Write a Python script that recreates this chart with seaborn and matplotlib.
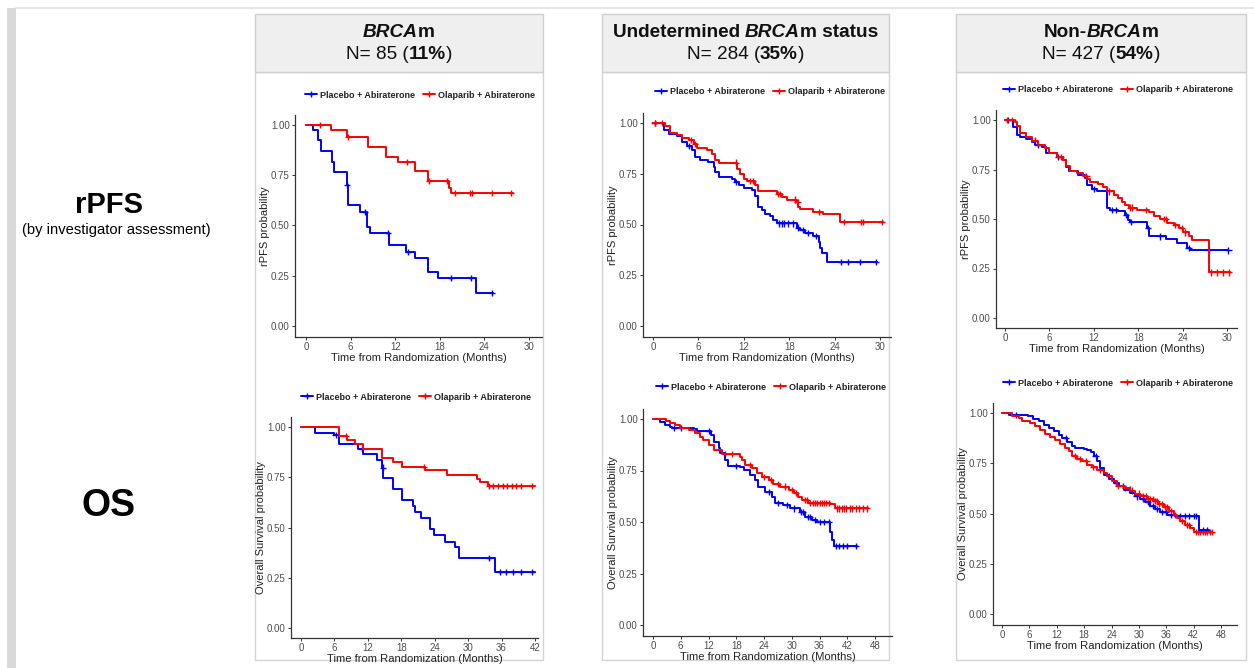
import numpy as np
import pandas as pd
import matplotlib
matplotlib.use("Agg")
import matplotlib.pyplot as plt
from matplotlib.patches import Rectangle
from matplotlib.lines import Line2D
import seaborn as sns

W, H = 1254, 668
sns.set_theme(style="ticks")
plt.rcParams['font.family'] = ['Liberation Sans', 'DejaVu Sans']

ARM_PBO = "Placebo + Abiraterone"
ARM_OLA = "Olaparib + Abiraterone"
COLORS = {ARM_PBO: "#0000ff", ARM_OLA: "#ff0000"}

# ---------------- data ----------------
# BRCAm rPFS
brca_rpfs_pbo_t = [0, 1.0, 1.65, 2.0, 3.45, 3.75, 5.5, 5.7, 7.3, 8.15, 8.6, 11.1, 13.5, 14.6, 16.4, 17.8, 22.9, 25.1]
brca_rpfs_pbo_s = [1.0, 0.975, 0.925, 0.872, 0.818, 0.768, 0.70, 0.60, 0.569, 0.494, 0.461, 0.403, 0.37, 0.337, 0.267, 0.237, 0.163, 0.163]
brca_rpfs_pbo_c = [5.55, 7.9, 11.0, 13.7, 19.5, 22.2, 25.0]
brca_rpfs_ola_t = [0, 3.4, 5.5, 8.4, 10.8, 12.4, 14.6, 16.4, 19.2, 19.5, 27.8]
brca_rpfs_ola_s = [1.0, 0.975, 0.94, 0.89, 0.84, 0.815, 0.77, 0.72, 0.685, 0.66, 0.66]
brca_rpfs_ola_c = [1.9, 5.6, 13.6, 16.6, 19.0, 20.1, 22.1, 22.3, 25.0, 27.6]

# Undetermined rPFS
und_rpfs_pbo_t = [0, 1.5, 2.1, 3.2, 3.8, 4.5, 5.1, 5.6, 6.2, 7.3, 8.0, 8.2, 8.7, 10.4, 10.9, 11.3, 12.0, 13.1, 13.5, 13.9,
                  14.4, 14.8, 15.5, 15.9, 16.4, 19.0, 19.4, 20.1, 21.2, 21.9, 22.1, 22.3, 23.0, 29.6]
und_rpfs_pbo_s = [1.0, 0.964, 0.944, 0.934, 0.906, 0.885, 0.869, 0.833, 0.82, 0.808, 0.784, 0.759, 0.734, 0.726, 0.71,
                  0.693, 0.682, 0.669, 0.639, 0.587, 0.57, 0.554, 0.541, 0.521, 0.505, 0.485, 0.472, 0.459, 0.443, 0.415,
                  0.382, 0.361, 0.316, 0.316]
und_rpfs_pbo_c = [0.3, 4.8, 11.0, 16.6, 17.0, 17.3, 17.8, 18.5, 19.2, 19.8, 20.5, 21.5, 24.8, 25.8, 27.3, 29.5]
und_rpfs_ola_t = [0, 1.6, 2.3, 3.2, 3.8, 4.7, 5.4, 5.8, 7.1, 7.8, 8.2, 8.7, 11.1, 11.5, 12.0, 12.4, 13.5, 13.9, 16.4,
                  17.0, 17.7, 19.0, 19.2, 19.4, 21.2, 22.5, 24.7, 30.4]
und_rpfs_ola_s = [1.0, 0.985, 0.95, 0.94, 0.928, 0.915, 0.898, 0.879, 0.866, 0.849, 0.816, 0.805, 0.775, 0.75, 0.726,
                  0.715, 0.693, 0.666, 0.652, 0.636, 0.623, 0.611, 0.587, 0.575, 0.562, 0.554, 0.513, 0.513]
und_rpfs_ola_c = [0.2, 1.2, 5.0, 5.5, 11.0, 12.8, 13.2, 16.5, 16.8, 18.8, 19.1, 22.0, 25.2, 27.5, 27.8, 30.2]

# Non-BRCAm rPFS
non_rpfs_pbo_t = [0, 1.1, 1.6, 2.0, 2.9, 3.6, 4.1, 5.0, 5.6, 7.0, 7.9, 8.3, 8.6, 9.9, 10.8, 11.1, 11.7, 12.4, 13.8,
                  14.2, 15.3, 16.2, 16.6, 16.9, 19.2, 19.5, 21.7, 23.2, 24.6, 25.0, 30.2]
non_rpfs_pbo_s = [1.0, 0.966, 0.924, 0.913, 0.905, 0.891, 0.874, 0.866, 0.832, 0.815, 0.798, 0.765, 0.74, 0.723, 0.706,
                  0.672, 0.65, 0.639, 0.555, 0.546, 0.538, 0.521, 0.496, 0.484, 0.454, 0.412, 0.398, 0.378, 0.353,
                  0.341, 0.341]
non_rpfs_pbo_c = [0.4, 4.5, 7.2, 12.0, 14.5, 15.0, 16.4, 17.0, 19.3, 21.0, 24.8, 27.5, 30.2]
non_rpfs_ola_t = [0, 1.35, 1.6, 2.0, 2.9, 3.6, 4.4, 5.4, 5.9, 7.0, 7.9, 8.3, 8.8, 9.7, 10.6, 11.1, 11.5, 12.6, 13.3,
                  13.8, 14.7, 15.3, 15.8, 16.2, 16.7, 17.8, 19.4, 20.1, 21.0, 21.9, 22.8, 23.5, 24.1, 24.8, 25.3,
                  27.5, 30.4]
non_rpfs_ola_s = [1.0, 0.99, 0.97, 0.933, 0.916, 0.896, 0.874, 0.857, 0.832, 0.815, 0.798, 0.768, 0.743, 0.731, 0.718,
                  0.70, 0.689, 0.677, 0.66, 0.639, 0.622, 0.605, 0.588, 0.571, 0.558, 0.546, 0.533, 0.516, 0.499,
                  0.482, 0.47, 0.454, 0.432, 0.412, 0.395, 0.23, 0.23]
non_rpfs_ola_c = [0.3, 1.0, 4.0, 7.5, 11.0, 14.0, 16.9, 17.2, 19.0, 21.5, 21.7, 23.0, 23.9, 24.3, 27.8, 28.6, 29.5, 30.3]

# BRCAm OS
brca_os_pbo_t = [0, 2.6, 5.9, 6.75, 10.3, 11.2, 13.6, 14.5, 14.8, 16.6, 18.1, 20.1, 20.5, 21.5, 23.2, 23.8, 25.9, 27.7,
                 28.4, 34.8, 42.0]
brca_os_pbo_s = [1.0, 0.97, 0.959, 0.917, 0.892, 0.864, 0.834, 0.798, 0.748, 0.693, 0.635, 0.605, 0.577, 0.549, 0.494,
                 0.461, 0.428, 0.403, 0.35, 0.279, 0.279]
brca_os_pbo_c = [6.2, 11.0, 14.7, 33.8, 35.8, 36.8, 38.0, 39.5, 41.5]
brca_os_ola_t = [0, 6.75, 8.2, 9.7, 11.2, 14.5, 16.6, 18.1, 22.3, 26.2, 31.5, 32.1, 33.6, 42.0]
brca_os_ola_s = [1.0, 0.954, 0.934, 0.917, 0.892, 0.847, 0.826, 0.80, 0.784, 0.76, 0.743, 0.726, 0.705, 0.705]
brca_os_ola_c = [8.0, 22.0, 33.8, 34.5, 35.3, 36.2, 37.0, 37.8, 38.6, 39.5, 41.5]

# Undetermined OS
und_os_pbo_t = [0, 1.6, 2.7, 3.7, 4.1, 8.8, 9.5, 12.6, 13.1, 14.2, 14.5, 15.6, 16.3, 18.8, 19.6, 21.0, 22.1, 22.8, 24.2,
                25.7, 26.4, 28.2, 29.6, 31.8, 32.9, 34.3, 35.4, 38.3, 38.8, 39.2, 44.0]
und_os_pbo_s = [1.0, 0.987, 0.971, 0.963, 0.955, 0.95, 0.94, 0.922, 0.89, 0.858, 0.833, 0.801, 0.772, 0.768, 0.752,
                0.728, 0.704, 0.672, 0.647, 0.623, 0.594, 0.583, 0.566, 0.55, 0.526, 0.51, 0.50, 0.453, 0.413, 0.385,
                0.385]
und_os_pbo_c = [4.5, 6.0, 12.0, 18.0, 25.0, 27.0, 29.0, 30.5, 32.0, 32.5, 33.5, 34.0, 35.0, 36.0, 37.0, 38.0, 39.6,
                40.2, 41.0, 42.0, 43.9]
und_os_ola_t = [0, 2.9, 3.7, 4.8, 5.9, 7.7, 9.1, 10.2, 10.9, 12.0, 13.1, 14.9, 18.8, 19.2, 19.9, 21.4, 22.4, 23.5, 25.0,
                26.0, 27.5, 29.3, 30.4, 31.4, 32.2, 33.6, 38.3, 39.4, 46.5]
und_os_ola_s = [1.0, 0.992, 0.982, 0.971, 0.958, 0.947, 0.934, 0.914, 0.898, 0.874, 0.85, 0.83, 0.817, 0.801, 0.777,
                0.76, 0.74, 0.72, 0.704, 0.684, 0.672, 0.655, 0.639, 0.623, 0.607, 0.594, 0.587, 0.566, 0.566]
und_os_ola_c = [15.5, 17.0, 21.0, 24.0, 25.5, 27.0, 28.5, 30.0, 31.0, 32.8, 33.2, 34.0, 34.5, 35.0, 35.5, 36.0, 36.5,
                37.0, 37.5, 38.0, 39.8, 40.3, 40.8, 41.3, 41.8, 42.5, 43.0, 43.8, 44.5, 45.3, 46.2]

# Non-BRCAm OS
non_os_pbo_t = [0, 1.5, 5.8, 6.9, 8.0, 9.1, 10.2, 11.3, 12.4, 13.1, 14.2, 15.3, 16.1, 17.9, 18.6, 19.4, 20.1, 20.8,
                21.5, 22.3, 23.4, 24.5, 25.6, 26.7, 28.1, 29.2, 30.3, 31.4, 32.5, 33.6, 34.7, 36.2, 38.0, 43.1, 45.3]
non_os_pbo_s = [1.0, 0.992, 0.983, 0.97, 0.959, 0.942, 0.925, 0.909, 0.892, 0.876, 0.854, 0.837, 0.826, 0.821, 0.814,
                0.804, 0.788, 0.76, 0.726, 0.693, 0.672, 0.652, 0.635, 0.619, 0.602, 0.585, 0.572, 0.556, 0.539,
                0.522, 0.506, 0.494, 0.486, 0.416, 0.416]
non_os_pbo_c = [3.0, 14.0, 20.5, 25.0, 26.5, 28.0, 29.5, 31.0, 32.0, 33.0, 34.0, 35.0, 36.0, 37.0, 39.0, 40.0, 41.0,
                42.0, 42.5, 44.0, 45.0]
non_os_ola_t = [0, 2.2, 3.7, 4.4, 6.2, 7.3, 8.4, 9.5, 10.6, 11.7, 12.8, 13.9, 14.6, 15.3, 16.4, 17.5, 18.6, 19.7, 20.8,
                22.3, 23.0, 24.1, 25.2, 26.7, 28.1, 29.2, 30.3, 31.8, 33.2, 34.3, 35.4, 36.5, 37.6, 38.3, 39.1, 40.2,
                41.3, 42.0, 46.0]
non_os_ola_s = [1.0, 0.987, 0.975, 0.959, 0.95, 0.934, 0.917, 0.897, 0.881, 0.867, 0.847, 0.826, 0.809, 0.788, 0.771,
                0.76, 0.743, 0.731, 0.715, 0.701, 0.685, 0.66, 0.638, 0.627, 0.614, 0.599, 0.585, 0.572, 0.561, 0.549,
                0.532, 0.511, 0.494, 0.478, 0.461, 0.444, 0.428, 0.406, 0.406]
non_os_ola_c = [16.0, 17.0, 18.5, 20.0, 21.5, 23.5, 25.5, 27.0, 28.5, 30.0, 31.0, 31.5, 32.0, 32.5, 33.0, 33.5, 34.0,
                34.5, 35.0, 35.8, 36.2, 37.0, 38.0, 39.5, 40.5, 41.0, 42.5, 43.0, 43.5, 44.0, 44.5, 45.0, 45.5, 46.0]

col_titles = [[("BRCA", "bold", "italic"), ("m", "bold", "normal")],
              [("Undetermined ", "bold", "normal"), ("BRCA", "bold", "italic"), ("m status", "bold", "normal")],
              [("Non-", "bold", "normal"), ("BRCA", "bold", "italic"), ("m", "bold", "normal")]]
col_n = ["85", "284", "427"]
col_pct = ["11%", "35%", "54%"]
x_label = "Time from Randomization (Months)"
y_labels = ["rPFS probability", "Overall Survival probability"]
y_ticks = [0.0, 0.25, 0.5, 0.75, 1.0]
y_ticklabels = ["0.00", "0.25", "0.50", "0.75", "1.00"]

panels = [
    (brca_rpfs_pbo_t, brca_rpfs_pbo_s, brca_rpfs_pbo_c, brca_rpfs_ola_t, brca_rpfs_ola_s, brca_rpfs_ola_c, 30, 0),
    (und_rpfs_pbo_t, und_rpfs_pbo_s, und_rpfs_pbo_c, und_rpfs_ola_t, und_rpfs_ola_s, und_rpfs_ola_c, 30, 0),
    (non_rpfs_pbo_t, non_rpfs_pbo_s, non_rpfs_pbo_c, non_rpfs_ola_t, non_rpfs_ola_s, non_rpfs_ola_c, 30, 0),
    (brca_os_pbo_t, brca_os_pbo_s, brca_os_pbo_c, brca_os_ola_t, brca_os_ola_s, brca_os_ola_c, 42, 1),
    (und_os_pbo_t, und_os_pbo_s, und_os_pbo_c, und_os_ola_t, und_os_ola_s, und_os_ola_c, 48, 1),
    (non_os_pbo_t, non_os_pbo_s, non_os_pbo_c, non_os_ola_t, non_os_ola_s, non_os_ola_c, 48, 1),
]

# ---------------- layout (pixels) ----------------
# x0px, xTpx, y1px, y0px, left, right, bottom, legend cx, legend cy
geom = [
    (306, 529, 125, 326, 295, 542, 337, 420, 95),
    (653, 880, 123, 326, 643, 891, 337, 770, 92),
    (1005, 1227, 120, 318, 996, 1237, 328, 1118, 90),
    (301, 535, 427, 628, 291, 538, 638, 416, 397),
    (653, 875, 419, 625, 643, 892, 636, 771, 387),
    (1002, 1221, 413, 614, 993, 1237, 625, 1118, 383),
]
col_box = [(255, 543), (602, 889), (956, 1246)]

fig = plt.figure(figsize=(W / 100, H / 100), dpi=100)
fig.patch.set_facecolor("white")


def fx(px):
    return px / W


def fy(py):
    return 1 - py / H


# background decorations (drawn below the axes)
fig.patches.append(Rectangle((fx(7), fy(668)), fx(9), 660 / H, transform=fig.transFigure,
                             facecolor="#d9d9d9", edgecolor="none", zorder=-10))
fig.add_artist(Line2D([fx(16), fx(1254)], [fy(8), fy(8)], color="#e6e6e6", lw=1.5,
                      transform=fig.transFigure, zorder=-10))

for (l, r) in col_box:
    fig.patches.append(Rectangle((fx(l), fy(660)), (r - l) / W, (660 - 72) / H, transform=fig.transFigure,
                                 facecolor="white", edgecolor="#d4d4d4", lw=1.0, zorder=-10))
    fig.patches.append(Rectangle((fx(l), fy(72)), (r - l) / W, (72 - 14) / H, transform=fig.transFigure,
                                 facecolor="#efefef", edgecolor="#cfcfcf", lw=1.0, zorder=-9))

renderer = fig.canvas.get_renderer()


def rich(cx, cy, segs, size):
    items = []
    for s, w, st in segs:
        t = fig.text(0, 0, s, fontsize=size, fontweight=w, fontstyle=st, ha="left", va="baseline",
                     color="#111111")
        items.append((t, t.get_window_extent(renderer=renderer).width))
    total = sum(wd for _, wd in items)
    x = cx - total / 2
    for t, wd in items:
        t.set_position((fx(x), fy(cy)))
        x += wd


for i, (l, r) in enumerate(col_box):
    cx = (l + r) / 2
    rich(cx, 37, col_titles[i], 13.7)
    rich(cx, 59, [("N= " + col_n[i] + " (", "normal", "normal"), (col_pct[i], "bold", "normal"),
                  (")", "normal", "normal")], 13.7)

fig.text(fx(109), fy(213), "rPFS", fontsize=21, fontweight="bold", ha="center", va="baseline", color="black")
fig.text(fx(116), fy(234), "(by investigator assessment)", fontsize=10.6, ha="center", va="baseline",
         color="black")
fig.text(fx(109), fy(516), "OS", fontsize=27, fontweight="bold", ha="center", va="baseline", color="black")


def step_value(t, s, c):
    idx = np.searchsorted(np.asarray(t), np.asarray(c), side="right") - 1
    return np.asarray(s)[idx]


for (pt, ps, pc, ot, os_, oc, T, row), g in zip(panels, geom):
    x0, xT, y1, y0, lpx, rpx, bpx, lcx, lcy = g
    sx = (xT - x0) / T
    sy = (y0 - y1)
    xlim = ((lpx - x0) / sx, (rpx - x0) / sx)
    ylim = (-(bpx - y0) / sy, 1.05)
    tpx = y1 - 0.05 * sy
    ax = fig.add_axes([fx(lpx), fy(bpx), (rpx - lpx) / W, (bpx - tpx) / H], zorder=5)
    ax.patch.set_alpha(0)

    curves = pd.DataFrame({
        "time": list(pt) + list(ot),
        "surv": list(ps) + list(os_),
        "arm": [ARM_PBO] * len(pt) + [ARM_OLA] * len(ot),
    })
    cens = pd.DataFrame({
        "time": list(pc) + list(oc),
        "surv": list(step_value(pt, ps, pc)) + list(step_value(ot, os_, oc)),
        "arm": [ARM_PBO] * len(pc) + [ARM_OLA] * len(oc),
    })
    sns.lineplot(data=curves, x="time", y="surv", hue="arm", palette=COLORS, estimator=None, sort=False,
                 drawstyle="steps-post", lw=1.4, legend=False, ax=ax)
    sns.scatterplot(data=cens, x="time", y="surv", hue="arm", palette=COLORS, marker="+", s=20,
                    linewidth=1.0, legend=False, ax=ax)

    ax.set_xlim(*xlim)
    ax.set_ylim(*ylim)
    ax.set_xticks(np.arange(0, T + 1, 6))
    ax.set_yticks(y_ticks)
    ax.set_yticklabels(y_ticklabels)
    sns.despine(ax=ax)
    for sp in ("left", "bottom"):
        ax.spines[sp].set_color("#333333")
        ax.spines[sp].set_linewidth(0.9)
    ax.tick_params(axis="both", length=2.5, width=0.7, color="#333333", labelsize=7, labelcolor="#4d4d4d", pad=1.2)
    ax.set_xlabel(x_label, fontsize=8.1, color="#222222", labelpad=0.5)
    ax.set_ylabel(y_labels[row], fontsize=8, color="#222222", labelpad=1)

    handles = [Line2D([], [], color=COLORS[ARM_PBO], lw=1.4, marker="+", markersize=4),
               Line2D([], [], color=COLORS[ARM_OLA], lw=1.4, marker="+", markersize=4)]
    leg = ax.legend(handles, [ARM_PBO, ARM_OLA], loc="center", bbox_to_anchor=(fx(lcx), fy(lcy)),
                    bbox_transform=fig.transFigure, ncol=2, frameon=False, handlelength=1.4,
                    handletextpad=0.35, columnspacing=0.8, prop={"size": 6.5, "weight": "bold"})
    for t in leg.get_texts():
        t.set_color("#222222")

fig.savefig("out.png", dpi=100, facecolor="white")
